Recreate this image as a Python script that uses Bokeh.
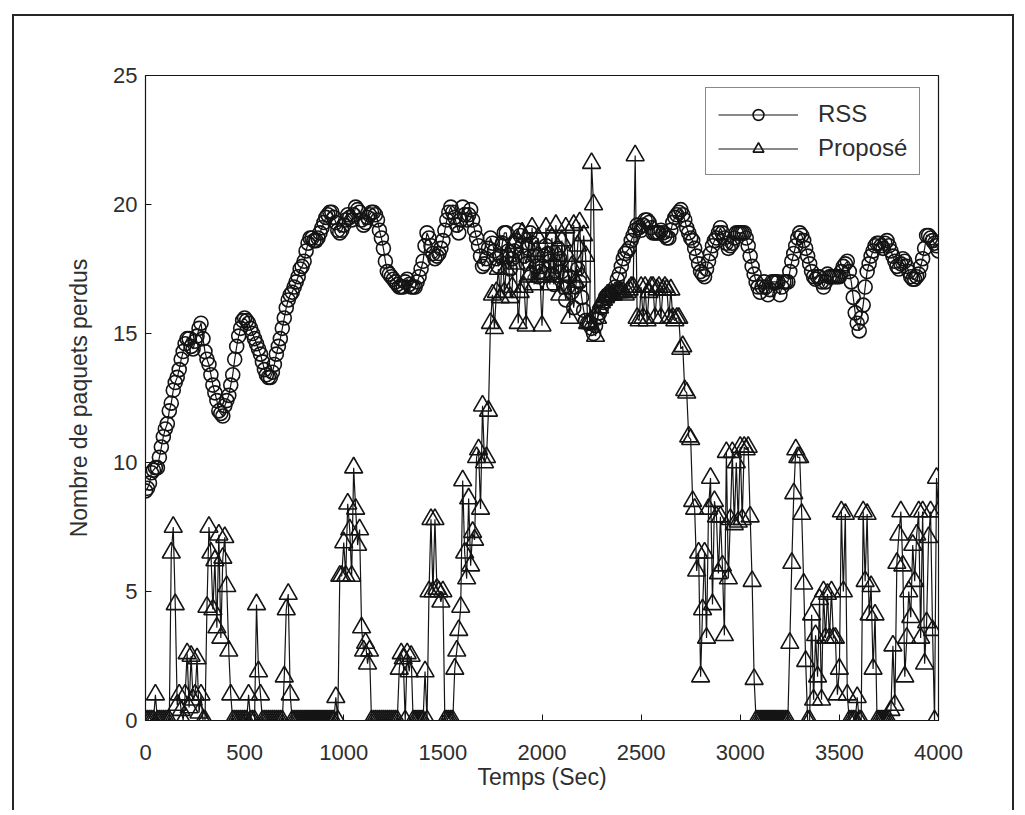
from bokeh.plotting import figure
from bokeh.models import Range1d, FixedTicker, Legend, LegendItem
from bokeh.embed import file_html
from bokeh.resources import INLINE

# ---- data (one sample every 10 s) ----
temps = list(range(0, 4001, 10))

rss = [
    8.9, 9.0, 9.2, 9.6, 9.7, 9.8, 9.8, 10.2, 10.6, 11.0,
    11.3, 11.5, 12.0, 12.3, 12.8, 13.1, 13.3, 13.6, 14.0, 14.3,
    14.6, 14.8, 14.8, 14.5, 14.4, 14.7, 14.9, 15.2, 15.4, 14.8,
    14.3, 14.0, 13.8, 13.4, 13.0, 12.7, 12.4, 12.0, 11.9, 11.8,
    12.2, 12.4, 12.6, 13.0, 13.4, 14.0, 14.5, 14.9, 15.2, 15.5,
    15.6, 15.5, 15.4, 15.2, 15.0, 14.8, 14.6, 14.4, 14.2, 13.9,
    13.6, 13.4, 13.3, 13.3, 13.5, 13.8, 14.2, 14.5, 14.8, 15.2,
    15.6, 16.0, 16.3, 16.5, 16.6, 16.8, 17.0, 17.2, 17.5, 17.6,
    17.8, 18.2, 18.5, 18.7, 18.7, 18.6, 18.6, 18.7, 18.9, 19.1,
    19.3, 19.5, 19.6, 19.7, 19.7, 19.5, 19.3, 19.0, 18.9, 19.0,
    19.2, 19.4, 19.6, 19.5, 19.4, 19.6, 19.9, 19.8, 19.7, 19.4,
    19.2, 19.3, 19.5, 19.6, 19.7, 19.7, 19.6, 19.4, 19.0, 18.7,
    18.3, 17.8, 17.4, 17.3, 17.2, 17.1, 17.0, 16.9, 16.8, 16.8,
    16.8, 17.0, 17.1, 16.9, 16.8, 16.8, 16.8, 17.0, 17.2, 17.5,
    17.8, 18.4, 18.9, 18.7, 18.4, 18.1, 17.9, 18.0, 18.1, 18.3,
    18.6, 19.0, 19.4, 19.7, 19.9, 19.7, 19.5, 19.2, 18.9, 19.4,
    19.9, 19.6, 19.4, 19.6, 19.8, 19.4, 19.0, 18.7, 18.4, 18.0,
    17.6, 17.7, 17.9, 18.3, 18.7, 18.5, 18.2, 17.9, 17.6, 18.0,
    18.5, 18.9, 18.9, 18.2, 17.5, 17.9, 18.2, 18.6, 19.0, 18.8,
    18.4, 18.0, 17.7, 18.3, 18.9, 18.5, 18.0, 17.6, 17.2, 17.4,
    17.6, 18.0, 18.4, 18.1, 17.8, 17.3, 16.9, 17.6, 18.3, 17.9,
    17.4, 16.8, 16.3, 16.8, 17.2, 16.6, 16.0, 16.8, 17.5, 17.0,
    16.4, 15.9, 15.5, 15.4, 15.4, 15.2, 15.0, 15.3, 15.6, 15.8,
    16.0, 16.2, 16.4, 16.5, 16.5, 16.5, 16.6, 16.8, 17.1, 17.3,
    17.6, 17.9, 18.1, 18.2, 18.3, 18.6, 18.8, 19.0, 19.2, 19.1,
    19.0, 19.2, 19.4, 19.4, 19.3, 19.1, 18.9, 18.9, 18.9, 18.9,
    19.0, 18.9, 18.8, 18.7, 18.7, 19.0, 19.3, 19.5, 19.6, 19.7,
    19.8, 19.6, 19.4, 19.1, 18.9, 18.7, 18.6, 18.3, 18.0, 17.7,
    17.4, 17.3, 17.2, 17.5, 17.8, 18.1, 18.4, 18.6, 18.7, 18.9,
    19.1, 18.9, 18.7, 18.5, 18.3, 18.4, 18.5, 18.7, 18.9, 18.9,
    18.9, 18.9, 18.9, 18.7, 18.4, 18.0, 17.6, 17.3, 17.0, 16.8,
    16.6, 16.8, 17.0, 16.8, 16.5, 16.7, 17.0, 17.0, 17.0, 17.0,
    16.5, 16.8, 17.0, 17.0, 17.0, 17.4, 17.8, 18.1, 18.4, 18.7,
    18.9, 18.8, 18.6, 18.3, 18.0, 17.7, 17.4, 17.2, 17.1, 17.2,
    17.2, 17.0, 16.8, 17.0, 17.3, 17.2, 17.2, 17.2, 17.2, 17.2,
    17.2, 17.4, 17.6, 17.7, 17.8, 17.4, 17.0, 16.4, 15.8, 15.4,
    15.1, 15.6, 16.1, 16.8, 17.4, 17.7, 18.0, 18.2, 18.4, 18.5,
    18.5, 18.4, 18.3, 18.5, 18.6, 18.4, 18.2, 18.0, 17.8, 17.6,
    17.5, 17.7, 17.9, 17.8, 17.6, 17.4, 17.2, 17.1, 17.1, 17.2,
    17.3, 17.6, 17.9, 18.3, 18.8, 18.8, 18.7, 18.6, 18.5, 18.4,
    18.2,
]

propose = [
    0, 0, 0, 0, 0, 1.0, 0, 0, 0, 0,
    0, 0, 0, 6.5, 7.5, 4.5, 0.6, 1.0, 0.4, 0,
    1.0, 2.6, 0.5, 2.5, 0.8, 1.0, 2.4, 0.3, 1.0, 0,
    0, 4.4, 7.5, 6.5, 4.3, 6.2, 3.6, 7.2, 3.2, 6.3,
    7.1, 5.2, 2.7, 1.0, 0, 0, 0, 0, 0, 0,
    0, 0, 1.0, 0, 0, 0, 4.5, 1.9, 1.0, 0,
    0, 0, 0, 0, 0, 0, 0, 0, 0, 0,
    1.7, 4.3, 4.9, 1.0, 0, 0, 0, 0, 0, 0,
    0, 0, 0, 0, 0, 0, 0, 0, 0, 0,
    0, 0, 0, 0, 0, 0, 0.9, 0, 5.6, 5.6,
    6.9, 5.6, 8.4, 7.4, 5.6, 9.8, 8.2, 6.8, 7.4, 3.6,
    2.7, 3.0, 2.2, 2.7, 0, 0, 0, 0, 0, 0,
    0, 0, 0, 0, 0, 0, 0, 0, 2.0, 2.6,
    2.4, 0, 2.6, 1.9, 2.5, 0, 0, 0, 0, 0,
    0, 1.9, 0, 5.0, 7.8, 5.0, 7.8, 5.1, 5.0, 4.6,
    5.0, 0, 0, 0, 0, 0, 2.0, 2.7, 3.5, 4.4,
    9.3, 6.5, 5.5, 8.6, 6.0, 7.3, 7.0, 10.2, 10.5, 8.2,
    12.2, 10.0, 10.2, 12.0, 15.4, 16.5, 15.2, 16.6, 17.5, 16.4,
    18.4, 16.6, 17.5, 18.0, 16.4, 16.8, 18.5, 17.7, 15.4, 16.6,
    18.9, 16.8, 15.3, 17.2, 17.3, 19.1, 16.9, 18.2, 18.7, 17.2,
    15.3, 17.3, 19.1, 18.0, 16.9, 18.7, 17.2, 19.2, 18.0, 16.5,
    18.6, 17.2, 19.1, 18.0, 15.6, 17.6, 19.2, 17.0, 18.4, 19.3,
    17.2, 18.8, 18.0, 15.4, 15.4, 21.6, 20.0, 14.9, 15.6, 16.0,
    16.2, 16.3, 16.4, 16.5, 16.5, 16.5, 16.5, 16.6, 16.6, 16.6,
    16.6, 16.6, 16.5, 16.6, 16.7, 16.8, 16.8, 21.9, 15.6, 15.5,
    16.8, 15.6, 16.8, 15.5, 16.6, 16.8, 16.8, 15.6, 16.7, 16.8,
    15.6, 16.7, 16.8, 16.7, 15.6, 16.7, 15.6, 15.5, 15.6, 15.6,
    14.4, 14.5, 12.8, 12.7, 11.0, 10.9, 8.5, 8.2, 5.8, 6.5,
    1.7, 4.3, 6.5, 3.2, 8.2, 9.4, 4.5, 8.5, 7.9, 5.7,
    7.9, 6.0, 3.3, 10.4, 5.5, 7.8, 10.4, 7.6, 10.0, 7.7,
    10.6, 7.8, 10.6, 10.5, 10.6, 7.9, 5.4, 1.6, 0, 0,
    0, 0, 0, 0, 0, 0, 0, 0, 0, 0,
    0, 0, 0, 0, 0, 3.0, 6.1, 8.8, 10.5, 10.2,
    10.2, 8.0, 5.3, 2.3, 0, 0, 4.1, 0.8, 3.3, 1.7,
    4.7, 0.8, 5.0, 3.2, 4.9, 3.2, 5.0, 3.2, 3.2, 1.0,
    2.0, 8.1, 5.0, 8.0, 1.0, 0, 0, 0, 0, 0.9,
    0, 0, 8.1, 5.4, 8.0, 4.1, 5.2, 2.0, 4.1, 0,
    0, 0, 0, 0, 0, 0, 0.4, 2.9, 0.6, 6.1,
    7.2, 8.1, 6.0, 1.7, 3.2, 5.0, 4.0, 6.8, 5.4, 7.2,
    8.1, 3.2, 8.1, 2.2, 3.8, 7.1, 8.1, 3.5, 0, 9.4,
    8.1,
]

assert len(rss) == len(temps) and len(propose) == len(temps)

x_ticks = [0, 500, 1000, 1500, 2000, 2500, 3000, 3500, 4000]
y_ticks = [0, 5, 10, 15, 20, 25]
series_names = ["RSS", "Proposé"]

INK = "#141414"
TXT = "#2e2e2e"
FONT = "Liberation Sans"

p = figure(
    width=1002, height=796,
    x_range=Range1d(0, 4000), y_range=Range1d(0, 25),
    output_backend="svg", toolbar_location=None,
    min_border_left=131, min_border_right=78,
    min_border_top=59, min_border_bottom=92,
)
p.margin = (14, 0, 0, 12)
p.styles = {
    "border-left": "2px solid #262626",
    "border-top": "2px solid #262626",
    "border-right": "2px solid #262626",
}

p.background_fill_color = "white"
p.border_fill_color = "white"
p.outline_line_color = INK
p.outline_line_width = 1.2
p.grid.visible = False

for ax in (p.xaxis[0], p.yaxis[0]):
    ax.axis_line_color = INK
    ax.major_tick_line_color = INK
    ax.major_tick_in = 6
    ax.major_tick_out = 0
    ax.minor_tick_line_color = None
    ax.major_label_text_font = FONT
    ax.major_label_text_font_size = "22px"
    ax.major_label_text_color = TXT
    ax.axis_label_text_font = FONT
    ax.axis_label_text_font_size = "23px"
    ax.axis_label_text_font_style = "normal"
    ax.axis_label_text_color = TXT

p.xaxis.ticker = FixedTicker(ticks=x_ticks)
p.yaxis.ticker = FixedTicker(ticks=y_ticks)
p.xaxis.axis_label = "Temps (Sec)"
p.yaxis.axis_label = "Nombre de paquets perdus"
p.xaxis.major_label_standoff = 24
p.xaxis.axis_label_standoff = 1
p.yaxis.major_label_standoff = 8
p.yaxis.axis_label_standoff = 18

l1 = p.line(temps, rss, line_color=INK, line_width=1.2)
s1 = p.scatter(temps, rss, marker="circle", size=14, fill_alpha=0,
               line_color=INK, line_width=1.6)
l2 = p.line(temps, propose, line_color=INK, line_width=1.2)
s2 = p.scatter(temps, propose, marker="triangle", size=18, fill_alpha=0,
               line_color=INK, line_width=1.6)

legend = Legend(
    items=[LegendItem(label=series_names[0], renderers=[l1, s1]),
           LegendItem(label=series_names[1], renderers=[l2, s2])],
    location=(560, 545),
    glyph_width=80, glyph_height=27, label_height=27,
    label_standoff=20, spacing=6, padding=12, margin=0,
    label_text_font=FONT, label_text_font_size="24px", label_text_color=TXT,
    border_line_color=INK, border_line_width=1.2,
    background_fill_color="white", background_fill_alpha=1,
)
p.add_layout(legend, "center")

open("out.html", "w").write(file_html(p, INLINE))
